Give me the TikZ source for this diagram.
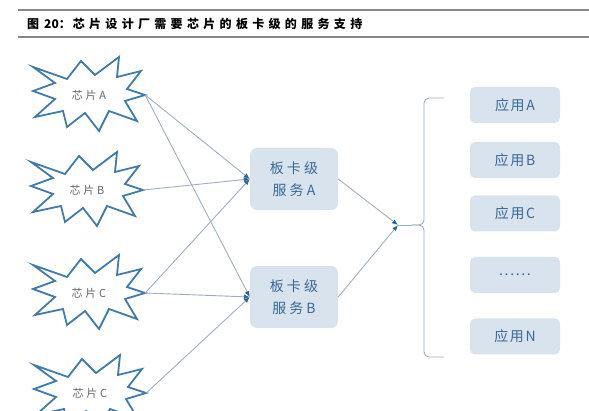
\documentclass[tikz,border=0pt]{standalone}
\usepackage{fontspec}
\setmainfont{Noto Sans CJK SC}
\usepackage{tikz}
\usetikzlibrary{arrows.meta, backgrounds}
\definecolor{linegray}{HTML}{9DAEC0}
\definecolor{tipblue}{HTML}{2A66A2}
\definecolor{burstblue}{HTML}{3F7BAE}
\definecolor{boxfill}{HTML}{D9E3EE}
\definecolor{boxtext}{HTML}{3A6996}
\definecolor{rulegray}{HTML}{888888}
\tikzset{
  chipburst/.pic={
    \draw[burstblue, line width=1.8pt, line join=miter, fill=white]
      (-56,-28) -- (-22,-16) -- (-8,-34) -- (6,-20) -- (30,-38) -- (28,-18)
      -- (52,-24) -- (38,-6) -- (56,0) -- (36,6) -- (48,26) -- (20,16)
      -- (10,36) -- (-4,18) -- (-22,32) -- (-26,16) -- (-54,22) -- (-34,4)
      -- (-56,-4) -- (-34,-12) -- cycle;
  },
  chip/.style={rectangle, minimum width=112pt, minimum height=20pt, inner sep=0pt,
    font=\fontsize{11}{12}\selectfont\addfontfeature{LetterSpace=25}, text=black!60},
  board/.style={rectangle, rounded corners=7pt, fill=boxfill, text=boxtext, align=center,
    minimum width=88pt, minimum height=62pt, font=\fontsize{14}{22}\selectfont\addfontfeature{LetterSpace=22}},
  app/.style={rectangle, rounded corners=5pt, fill=boxfill, text=boxtext,
    minimum width=90pt, minimum height=36pt, font=\fontsize{14}{15}\selectfont\addfontfeature{LetterSpace=12}},
  link/.style={draw=linegray, line width=0.9pt},
  feed/.style={link, -{Latex[length=6pt,width=5pt,color=tipblue]}},
}

\begin{document}
\begin{tikzpicture}[x=1pt, y=-1pt]
    \useasboundingbox (0,0) rectangle (589,411);
    % header
    \draw[rulegray, line width=2pt] (18,10) -- (589,10);
    \draw[rulegray, line width=2pt] (18,37) -- (589,37);
    \node (title) at (27,23.5) [anchor=west, inner sep=0pt, font=\fontsize{12}{13}\selectfont\bfseries] {图\hspace{5pt}20：\hspace{2pt}\addfontfeature{LetterSpace=36}芯片设计厂需要芯片的板卡级的服务支持};

    % chips
    \node (chip1) at (89,95)  [chip] {芯片A};
    \node (chip2) at (87,190) [chip] {芯片B};
    \node (chip3) at (89,293) [chip] {芯片C};
    \node (chip4) at (90,393) [chip] {芯片C};
    \begin{scope}[on background layer]
      \pic at (chip1.center) {chipburst};
      \pic at (chip2.center) {chipburst};
      \pic at (chip3.center) {chipburst};
      \pic at (chip4.center) {chipburst};
    \end{scope}

    % boards
    \node (board1) at (294,179) [board] {板卡级\\服务A};
    \node (board2) at (294,297) [board] {板卡级\\服务B};

    % applications
    \node (app1) at (515,105)   [app] {应用A};
    \node (app2) at (515,160)   [app] {应用B};
    \node (app3) at (515,213.5) [app] {应用C};
    \node (app4) at (515,275)   [app] {......};
    \node (app5) at (515,336.5) [app] {应用N};

    \coordinate (hub) at (398,225);
    \coordinate (braceMid) at (412,225);
    \coordinate (braceTop) at (444,98);
    \coordinate (braceBot) at (444,357);

    \draw[feed] (chip1.east) -- (board1.west);
    \draw[feed] (chip1.east) -- (board2.west);
    \draw[feed] (chip2.east) -- (board1.west);
    \draw[feed] (chip3.east) -- (board1.west);
    \draw[feed] (chip3.east) -- (board2.west);
    \draw[feed] (chip4.east) -- (board2.west);
    \draw[feed] (board1.east) -- (hub);
    \draw[feed] (board2.east) -- (hub);
    \draw[link] (hub) -- (braceMid);
    \draw[link, rounded corners=5pt] (braceTop) -- (424,98) -- (424,225) -- (braceMid);
    \draw[link, rounded corners=5pt] (braceBot) -- (424,357) -- (424,225) -- (braceMid);
\end{tikzpicture}
\end{document}
